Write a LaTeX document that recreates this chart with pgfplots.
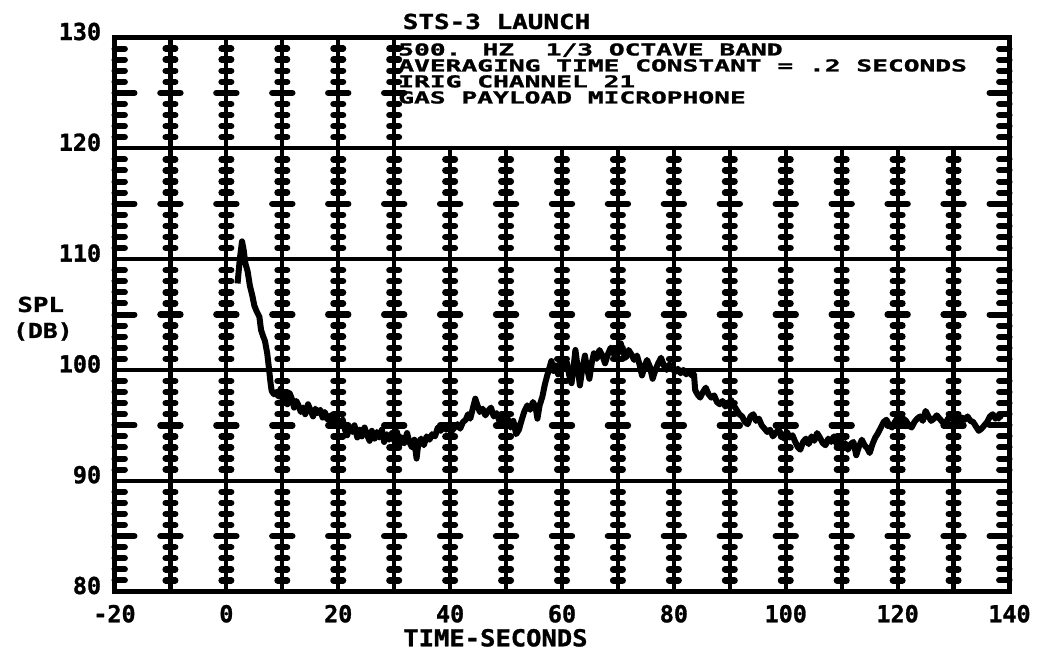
\documentclass[border=0pt]{standalone}
\usepackage{pgfplots}
\pgfplotsset{compat=1.18}
\usepackage{graphicx}
\usepackage{fontspec}
\newfontfamily\pf[FakeBold=1.2]{DejaVu Sans Mono}
% plotter-style lettering: size, horizontal stretch, text
\newcommand\plt[3]{\scalebox{#2}[1]{\fontsize{#1}{#1}\selectfont\pf\bfseries #3}}
\newcommand\tl[1]{\plt{11.7pt}{1.0}{#1}}

\pgfplotstableread{
t dB
2.0 107.8
2.4 110.0
2.8 111.6
3.1 110.8
3.4 109.6
3.8 108.9
4.2 107.6
4.6 106.8
5.0 105.8
5.4 105.3
5.9 104.8
6.2 103.6
6.6 103.0
6.9 102.6
7.3 101.5
7.6 100.2
7.9 98.8
8.1 98.1
8.5 97.8
8.9 98.0
9.3 97.6
9.7 98.3
10.1 97.2
10.5 97.6
10.9 96.9
11.3 97.9
11.7 97.4
12.1 96.6
12.5 97.2
12.9 96.8
13.3 96.2
13.7 96.6
14.1 96.0
14.6 96.9
15.0 96.4
15.5 95.8
15.9 96.5
16.3 96.1
16.8 96.4
17.2 95.7
17.6 96.2
18.1 95.5
18.6 95.9
19.0 95.2
19.5 95.8
20.0 95.4
20.4 95.0
20.8 95.5
21.2 94.6
21.6 94.1
22.0 94.9
22.5 94.4
22.9 95.0
23.4 93.9
23.8 94.6
24.2 94.0
24.7 94.8
25.1 94.2
25.6 93.6
26.0 94.5
26.5 93.8
26.9 94.4
27.3 93.9
27.8 94.6
28.2 93.5
28.7 94.2
29.1 93.7
29.6 94.3
30.0 93.6
30.5 94.4
30.9 93.2
31.4 93.9
31.8 93.4
32.3 94.3
32.7 93.5
33.2 93.0
33.6 93.7
34.0 92.0
34.3 93.3
34.8 93.8
35.3 93.2
35.8 94.0
36.3 93.7
36.8 94.2
37.3 94.0
37.8 94.8
38.3 94.5
38.8 95.0
39.3 94.6
39.8 94.9
40.3 94.5
40.8 94.8
41.3 95.1
41.8 94.7
42.3 95.3
42.8 95.5
43.2 96.0
43.6 95.6
44.0 96.4
44.5 97.4
44.9 96.8
45.3 96.2
45.8 96.5
46.3 95.9
46.8 96.3
47.3 96.6
47.8 95.8
48.3 96.1
48.8 95.4
49.3 95.9
49.8 95.2
50.3 95.6
50.8 94.8
51.3 95.4
51.8 94.2
52.3 94.6
52.8 95.5
53.3 96.3
53.8 96.8
54.3 96.4
54.8 97.1
55.3 96.6
55.6 95.6
56.0 96.8
56.5 97.6
56.9 98.6
57.3 99.4
57.7 100.1
58.1 100.8
58.5 99.9
58.9 100.4
59.3 99.6
59.7 100.7
60.1 100.3
60.5 101.0
60.9 100.6
61.3 99.5
61.7 98.8
62.1 100.4
62.4 101.8
62.8 100.2
63.2 98.6
63.6 100.0
64.1 101.3
64.5 100.1
64.9 99.2
65.3 100.6
65.7 101.5
66.2 101.0
66.7 101.8
67.2 101.3
67.7 100.6
68.2 101.4
68.7 102.0
69.2 101.5
69.7 101.1
70.1 101.8
70.5 102.4
70.9 101.6
71.4 101.1
71.9 101.8
72.4 101.4
72.9 100.9
73.4 101.3
73.8 100.6
74.3 99.5
74.7 100.2
75.2 100.9
75.7 100.3
76.2 99.2
76.7 100.0
77.2 100.6
77.7 101.1
78.2 100.4
78.7 100.0
79.2 100.5
79.7 100.2
80.2 99.8
80.7 100.1
81.2 99.7
81.7 100.0
82.2 99.6
82.7 99.9
83.2 99.5
83.6 99.6
83.8 98.2
84.2 97.8
84.7 97.5
85.2 98.0
85.7 98.4
86.2 97.8
86.7 97.5
87.2 97.7
87.7 97.1
88.2 96.9
88.7 97.2
89.2 96.7
89.7 96.9
90.2 97.3
90.7 96.8
91.2 96.4
91.7 96.0
92.2 95.8
92.7 95.3
93.2 95.1
93.7 95.8
94.2 96.0
94.7 95.4
95.2 95.6
95.7 95.0
96.2 94.7
96.7 94.4
97.2 94.6
97.7 94.0
98.2 94.3
98.7 94.6
99.2 94.2
99.7 93.8
100.2 94.4
100.7 93.9
101.2 94.1
101.7 93.5
102.2 93.0
102.6 92.8
103.1 93.5
103.6 93.8
104.1 93.3
104.6 94.0
105.1 93.6
105.6 94.3
106.1 93.9
106.6 93.4
107.1 93.2
107.6 93.8
108.1 93.5
108.6 94.0
109.1 93.3
109.6 93.6
110.1 93.0
110.6 93.4
111.1 92.8
111.6 93.3
112.1 93.5
112.6 92.3
113.1 93.1
113.6 93.7
114.1 93.2
114.6 92.9
115.0 92.5
115.5 93.3
116.0 93.9
116.5 94.3
117.0 94.8
117.5 95.3
118.0 95.5
118.5 95.0
119.0 94.8
119.5 95.3
120.0 95.7
120.5 95.2
121.0 95.6
121.5 95.4
122.0 95.0
122.5 94.8
123.0 95.3
123.5 95.6
124.0 95.8
124.5 95.4
125.0 96.3
125.5 95.8
126.0 95.4
126.5 95.6
127.0 95.9
127.5 95.6
128.0 95.3
128.5 95.1
129.0 95.6
129.5 95.8
130.0 95.4
130.5 95.6
131.0 95.3
131.5 95.7
132.0 95.5
132.5 95.8
133.0 95.4
133.5 95.3
134.0 94.9
134.5 94.5
135.0 94.7
135.5 95.0
136.0 95.3
136.5 95.8
137.0 96.0
137.5 95.6
138.0 95.8
138.5 95.5
}\spl

\begin{document}
\begin{tikzpicture}
\begin{axis}[
  name=ax,
  scale only axis,
  width=447.5pt, height=277pt,
  xmin=-20, xmax=140, ymin=80, ymax=130,
  axis line style={line width=2.4pt},
  xtick={-20,0,...,140},
  xticklabels={\tl{-20},\tl{0},\tl{20},\tl{40},\tl{60},\tl{80},\tl{100},\tl{120},\tl{140}},
  ytick={80,90,...,130},
  yticklabels={\tl{80},\tl{90},\tl{100},\tl{110},\tl{120},\tl{130}},
  major tick length=0pt,
  tick style={draw=none},
  xticklabel style={anchor=north, inner sep=0pt, yshift=-6.5pt},
  yticklabel style={anchor=east, inner sep=0pt, xshift=-6.5pt, yshift=3pt},
  clip=false,
]
% grid with hash marks
\pgfplotsextra{%
  \foreach \gy in {90,100,...,120}{%
    \draw[line width=2.1pt] (axis cs:-20,\gy) -- (axis cs:140,\gy);
  }%
  \foreach \gx in {-10,0,...,130}{%
    \ifnum\gx>30 \def\gtop{120}\else\def\gtop{130}\fi
    \draw[line width=2.1pt] (axis cs:\gx,80) -- (axis cs:\gx,\gtop);
    \foreach \gy in {81,...,129}{%
      \ifnum\gy<\gtop
        \pgfmathtruncatemacro\gr{mod(\gy,10)}%
        \ifnum\gr=0 \else
          \ifnum\gr=5 \def\hl{5pt}\else\def\hl{2.4pt}\fi
          \draw[line width=3.2pt,line cap=round]
            ([xshift=-\hl]axis cs:\gx,\gy) -- ([xshift=\hl]axis cs:\gx,\gy);
        \fi
      \fi
    }%
  }%
  \foreach \gy in {81,...,129}{%
    \pgfmathtruncatemacro\gr{mod(\gy,10)}%
    \ifnum\gr=0 \else
      \ifnum\gr=5 \def\hl{10pt}\else\def\hl{5.2pt}\fi
      \draw[line width=3pt,line cap=round]
        (axis cs:-20,\gy) -- ([xshift=\hl]axis cs:-20,\gy);
      \draw[line width=3pt,line cap=round]
        (axis cs:140,\gy) -- ([xshift=-\hl]axis cs:140,\gy);
    \fi
  }%
}
\addplot[black, line width=3pt, line join=round] table[x=t, y=dB] {\spl};

\node[anchor=base west, inner sep=0pt] at (axis cs:30.66,128.38) {\plt{8.2pt}{1.6}{500. HZ~~1/3 OCTAVE BAND}};
\node[anchor=base west, inner sep=0pt] at (axis cs:30.66,126.94) {\plt{8.2pt}{1.6}{AVERAGING TIME CONSTANT = .2 SECONDS}};
\node[anchor=base west, inner sep=0pt] at (axis cs:30.66,125.50) {\plt{8.2pt}{1.6}{IRIG CHANNEL 21}};
\node[anchor=base west, inner sep=0pt] at (axis cs:30.66,124.05) {\plt{8.2pt}{1.6}{GAS PAYLOAD MICROPHONE}};

\node[anchor=base, inner sep=0pt] at (axis cs:48.3,130.77) {\plt{10.3pt}{1.26}{STS-3 LAUNCH}};
\node[anchor=base, inner sep=0pt] at (axis cs:48.1,75.05) {\plt{11.7pt}{1.09}{TIME-SECONDS}};
\node[anchor=base, inner sep=0pt] at (axis cs:-33.2,105.23) {\plt{10.3pt}{1.25}{SPL}};
\node[anchor=base, inner sep=0pt] at (axis cs:-32.8,102.88) {\plt{10.3pt}{1.2}{(DB)}};
\end{axis}
\pgfresetboundingbox
\path[use as bounding box] ([shift={(-57.25pt,-30.75pt)}]ax.south west) rectangle ([shift={(463.75pt,295.75pt)}]ax.south west);
\end{tikzpicture}
\end{document}
